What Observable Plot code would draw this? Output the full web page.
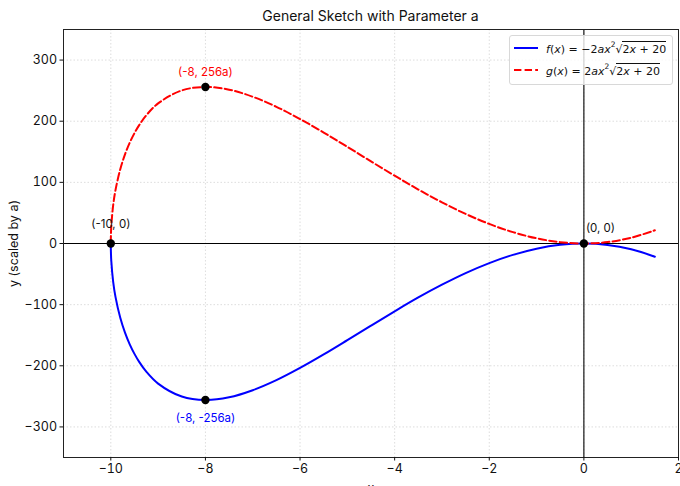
<!DOCTYPE html>
<html><head><meta charset="utf-8">
<script src="https://cdn.jsdelivr.net/npm/d3@7"></script>
<script src="https://cdn.jsdelivr.net/npm/@observablehq/plot@0.6"></script>
<style>
body{margin:0;background:#fff;font-family:Inter,"Open Sans",sans-serif;}
#wrap{position:relative;width:680px;height:486px;overflow:hidden;}
#title{position:absolute;left:63px;width:615px;top:7px;text-align:center;font-size:14px;color:#111;line-height:18px;}
#chart{position:absolute;left:0;top:0;}
#legend{position:absolute;left:509px;top:35px;width:162px;height:48px;border:1px solid #d8d8d8;border-radius:3px;background:rgba(255,255,255,0.8);font-family:"DejaVu Sans",sans-serif;font-size:11px;color:#111;}
.row{position:absolute;left:4px;height:18px;display:flex;align-items:center;white-space:nowrap;}
.row svg{margin-right:8px;}
.rad{border-top:1px solid #111;padding-top:1px;}
sup{font-size:7.5px;vertical-align:6px;}
</style></head><body>
<div id="wrap">
<div id="chart"></div>
<div id="title">General Sketch with Parameter a</div>
<div id="legend">
 <div class="row" style="top:3px"><svg width="24" height="4"><line x1="0" y1="2" x2="24" y2="2" stroke="blue" stroke-width="2"/></svg><span><i>f</i>(<i>x</i>) = −2<i>ax</i><sup>2</sup>√<span class="rad">2<i>x</i> + 20</span></span></div>
 <div class="row" style="top:25px"><svg width="24" height="4"><line x1="0" y1="2" x2="24" y2="2" stroke="red" stroke-width="2" stroke-dasharray="7.4,3.2"/></svg><span><i>g</i>(<i>x</i>) = 2<i>ax</i><sup>2</sup>√<span class="rad">2<i>x</i> + 20</span></span></div>
</div>
</div>
<script>
const xValues = [-10, -9.998, -9.99, -9.95, -9.9, -9.8, -9.7, -9.6, -9.5, -9.4, -9.25, -9, -8.5, -8, -7.5, -7, -6.5, -6, -5.5, -5, -4.5, -4, -3.5, -3, -2.5, -2, -1.5, -1, -0.5, 0, 0.5, 1, 1.5];
const gValues = [0, 12.6, 28.2, 62.6, 87.7, 121.5, 145.8, 164.9, 180.5, 193.6, 209.6, 229.1, 250.3, 256, 251.6, 240.0, 223.6, 203.6, 181.5, 158.1, 134.3, 110.9, 88.3, 67.4, 48.4, 32.0, 18.6, 8.5, 2.2, 0, 2.3, 9.4, 21.6];
const fValues = [0, -12.6, -28.2, -62.6, -87.7, -121.5, -145.8, -164.9, -180.5, -193.6, -209.6, -229.1, -250.3, -256, -251.6, -240.0, -223.6, -203.6, -181.5, -158.1, -134.3, -110.9, -88.3, -67.4, -48.4, -32.0, -18.6, -8.5, -2.2, 0, -2.3, -9.4, -21.6];
const pointX = [-10, -8, -8, 0];
const pointY = [0, 256, -256, 0];
const pointLabels = ["(-10, 0)", "(-8, 256a)", "(-8, -256a)", "(0, 0)"];
const xTicks = [-10, -8, -6, -4, -2, 0, 2];
const yTicks = [-300, -200, -100, 0, 100, 200, 300];

const fData = xValues.map((x, i) => ({x, y: fValues[i]}));
const gData = xValues.map((x, i) => ({x, y: gValues[i]}));
const pts = pointX.map((x, i) => ({x, y: pointY[i], label: pointLabels[i]}));
const grid = {stroke: "#d4d4d4", strokeWidth: 0.8, strokeDasharray: "1.5,2"};
const lbl = {x: "x", y: "y", text: "label", fontSize: 11.5};

const chart = Plot.plot({
  width: 680, height: 486,
  marginTop: 29, marginBottom: 29, marginLeft: 63, marginRight: 2,
  style: {fontFamily: "Inter, 'Open Sans', sans-serif", fontSize: "12.5px", color: "#111", background: "white"},
  x: {domain: [-11, 2]},
  y: {domain: [-350, 350]},
  marks: [
    Plot.ruleX(xTicks, grid),
    Plot.ruleY(yTicks, grid),
    Plot.ruleY([0], {stroke: "black", strokeWidth: 1.1}),
    Plot.ruleX([0], {stroke: "black", strokeWidth: 1.1}),
    Plot.line(fData, {x: "x", y: "y", stroke: "blue", strokeWidth: 2, curve: "catmull-rom"}),
    Plot.line(gData, {x: "x", y: "y", stroke: "red", strokeWidth: 2, strokeDasharray: "7.4,3.2", curve: "catmull-rom"}),
    Plot.dot(pts, {x: "x", y: "y", r: 4.2, fill: "black", stroke: "none"}),
    Plot.text([pts[0]], {...lbl, dy: -19, fill: "#111"}),
    Plot.text([pts[1]], {...lbl, dy: -15, fill: "red"}),
    Plot.text([pts[2]], {...lbl, dy: 18, fill: "blue"}),
    Plot.text([pts[3]], {...lbl, dx: 2, dy: -15, textAnchor: "start", fill: "#111"}),
    Plot.frame({stroke: "#222", strokeWidth: 1}),
    Plot.axisX({ticks: xTicks, tickSize: 3.5, tickPadding: 3, label: "x", labelAnchor: "center", labelArrow: "none", labelOffset: 34}),
    Plot.axisY({ticks: yTicks, tickSize: 3.5, tickPadding: 3, label: "y (scaled by a)", labelAnchor: "center", labelArrow: "none", labelOffset: 54})
  ]
});
document.getElementById("chart").appendChild(chart);
</script>
</body></html>
